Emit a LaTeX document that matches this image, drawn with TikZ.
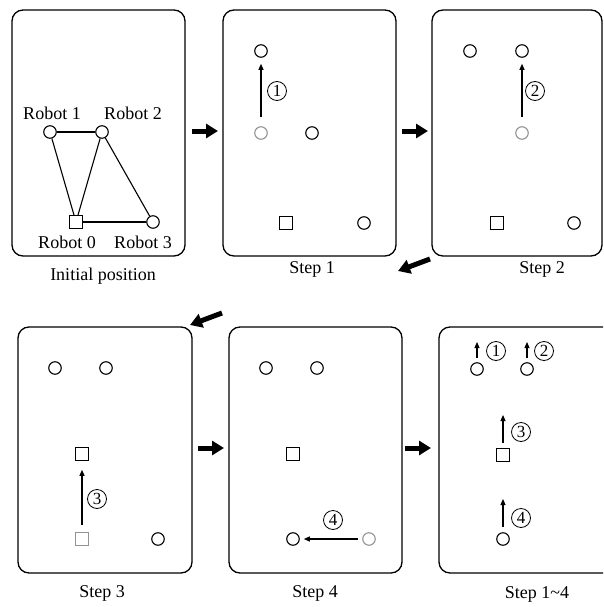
\documentclass[tikz,border=0pt]{standalone}
\usepackage{fontspec}
\setmainfont{Liberation Serif}
\usetikzlibrary{arrows.meta,calc}
\begin{document}
\begin{tikzpicture}[x=1pt,y=-1pt,
  panel/.style={draw,line width=1.3pt,rounded corners=11pt},
  rob/.style={circle,draw,line width=1.1pt,minimum size=12.5pt,inner sep=0pt,fill=white},
  base/.style={rectangle,draw,line width=1.1pt,minimum size=12.5pt,inner sep=0pt,fill=white},
  ghost/.style={draw=gray!85},
  lbl/.style={font=\fontsize{18}{20}\selectfont,inner sep=0pt},
  num/.style={circle,draw,line width=0.8pt,minimum size=19pt,inner sep=0pt,font=\fontsize{17}{18}\selectfont},
  link/.style={line width=1.1pt},
  mv/.style={line width=1.1pt,-{Triangle[length=6pt,width=5pt]}},
  big/.style={line width=5pt,-{Triangle[length=12pt,width=14pt]}}
]
\useasboundingbox (0,0) rectangle (603,607);
\clip (0,0) rectangle (603,607);
% panels
\draw[panel] (12,10) rectangle (185,256);
\draw[panel] (223,10) rectangle (396,256);
\draw[panel] (432,10) rectangle (602,256);
\draw[panel] (18,327) rectangle (192,573);
\draw[panel] (229,327) rectangle (402,573);
\draw[panel] (439,327) rectangle (615,573);
% panel 1
\node[rob] (r1) at (50,132) {};
\node[rob] (r2) at (102,132) {};
\node[base] (r0) at (76,222) {};
\node[rob] (r3) at (153,222) {};
\draw[link] (r1) -- (r2);
\draw[link] (r1) -- (r0);
\draw[link] (r2) -- (r0);
\draw[link] (r2) -- (r3);
\draw[link] (r0) -- (r3);
\node[lbl] (t1) at (52,113) {Robot 1};
\node[lbl] (t2) at (133,113) {Robot 2};
\node[lbl] (t0) at (67,242) {Robot 0};
\node[lbl] (t3) at (143,242) {Robot 3};
\node[lbl] (c1) at (103,276) {Initial position};
% panel 2
\node[rob] (a1) at (261,51) {};
\node[rob,ghost] (a1g) at (261,133) {};
\node[rob] (a2) at (312,133) {};
\node[base] (a0) at (286,223) {};
\node[rob] (a3) at (364,223) {};
\draw[mv,shorten <=9pt,shorten >=6pt] (a1g) -- (a1);
\node[num] (n1) at (277,91) {1};
\node[lbl] (c2) at (312,269) {Step 1};
% panel 3
\node[rob] (b1) at (470,51) {};
\node[rob] (b2) at (522,51) {};
\node[rob,ghost] (b2g) at (522,133) {};
\node[base] (b0) at (497,223) {};
\node[rob] (b3) at (574,223) {};
\draw[mv,shorten <=9pt,shorten >=6pt] (b2g) -- (b2);
\node[num] (n2) at (535,91) {2};
\node[lbl] (c3) at (542,269) {Step 2};
% panel 4
\node[rob] (d1) at (55,368) {};
\node[rob] (d2) at (106,368) {};
\node[base] (d0) at (82,454) {};
\node[base,ghost] (d0g) at (82,539) {};
\node[rob] (d3) at (158,539) {};
\draw[mv,shorten <=7pt,shorten >=9pt] (d0g) -- (d0);
\node[num] (n3) at (97,499) {3};
\node[lbl] (c4) at (102,593) {Step 3};
% panel 5
\node[rob] (e1) at (266,368) {};
\node[rob] (e2) at (317,368) {};
\node[base] (e0) at (293,454) {};
\node[rob] (e3) at (293,539) {};
\node[rob,ghost] (e3g) at (369,539) {};
\draw[mv,shorten <=4pt,shorten >=4pt] (e3g) -- (e3);
\node[num] (n4) at (333,520) {4};
\node[lbl] (c5) at (315,593) {Step 4};
% panel 6
\node[rob] (f1) at (477,369) {};
\node[rob] (f2) at (527,369) {};
\node[base] (f0) at (503,455) {};
\node[rob] (f3) at (503,539) {};
\coordinate (f1s) at (477,358); \coordinate (f1e) at (477,342);
\coordinate (f2s) at (527,358); \coordinate (f2e) at (527,342);
\coordinate (f0s) at (503,443); \coordinate (f0e) at (503,415);
\coordinate (f3s) at (503,527); \coordinate (f3e) at (503,499);
\draw[mv] (f1s) -- (f1e);
\draw[mv] (f2s) -- (f2e);
\draw[mv] (f0s) -- (f0e);
\draw[mv] (f3s) -- (f3e);
\node[num] (m1) at (496,351) {1};
\node[num] (m2) at (544,351) {2};
\node[num] (m3) at (521,432) {3};
\node[num] (m4) at (521,518) {4};
\node[lbl] (c6) at (537,594) {Step 1\textasciitilde 4};
% transition arrows
\coordinate (h1s) at (192,131); \coordinate (h1e) at (218,131);
\coordinate (h2s) at (402,131); \coordinate (h2e) at (428,131);
\coordinate (h3s) at (198,448); \coordinate (h3e) at (224,448);
\coordinate (h4s) at (405,448); \coordinate (h4e) at (431,448);
\coordinate (g1s) at (430,259); \coordinate (g1e) at (398,271);
\coordinate (g2s) at (222,313); \coordinate (g2e) at (190,325);
\draw[big] (h1s) -- (h1e);
\draw[big] (h2s) -- (h2e);
\draw[big] (h3s) -- (h3e);
\draw[big] (h4s) -- (h4e);
\draw[big] (g1s) -- (g1e);
\draw[big] (g2s) -- (g2e);
\end{tikzpicture}
\end{document}
